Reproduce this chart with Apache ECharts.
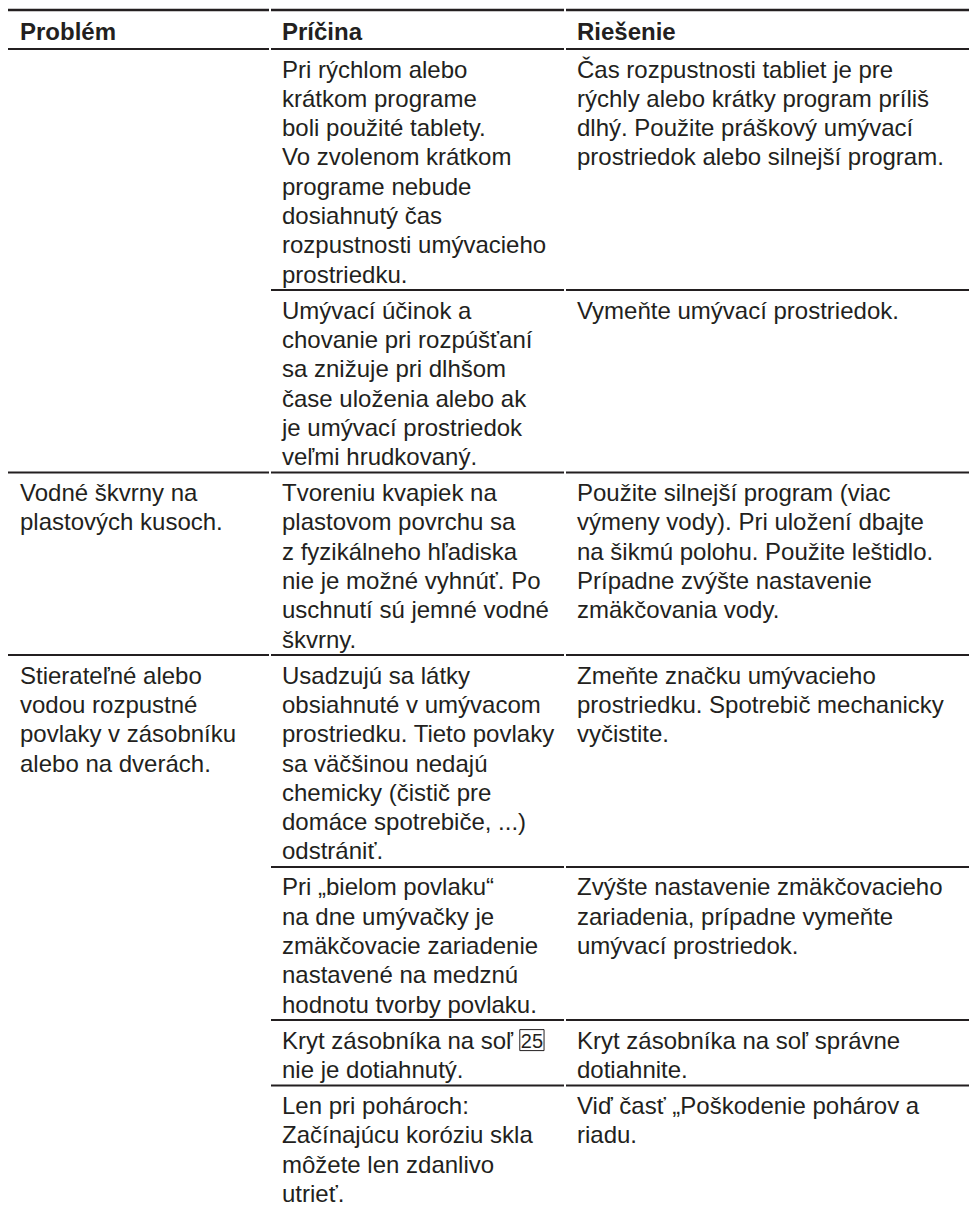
<!DOCTYPE html>
<html><head><meta charset="utf-8">
<script src="https://cdn.jsdelivr.net/npm/echarts@6/dist/echarts.min.js"></script>
<style>html,body{margin:0;padding:0;background:#fff}#c{width:969px;height:1214px}</style>
</head><body><div id="c"></div>
<script>
// ---- table content ----
const headers = ['Problém', 'Príčina', 'Riešenie'];

// column 1 text per row (null = merged with the row above)
const problemLines = [
  [],
  null,
  ['Vodné škvrny na', 'plastových kusoch.'],
  ['Stierateľné alebo', 'vodou rozpustné', 'povlaky v zásobníku', 'alebo na dverách.'],
  null,
  null,
  null
];

const causeLines = [
  ['Pri rýchlom alebo', 'krátkom programe', 'boli použité tablety.', 'Vo zvolenom krátkom', 'programe nebude', 'dosiahnutý čas', 'rozpustnosti umývacieho', 'prostriedku.'],
  ['Umývací účinok a', 'chovanie pri rozpúšťaní', 'sa znižuje pri dlhšom', 'čase uloženia alebo ak', 'je umývací prostriedok', 'veľmi hrudkovaný.'],
  ['Tvoreniu kvapiek na', 'plastovom povrchu sa', 'z fyzikálneho hľadiska', 'nie je možné vyhnúť. Po', 'uschnutí sú jemné vodné', 'škvrny.'],
  ['Usadzujú sa látky', 'obsiahnuté v umývacom', 'prostriedku. Tieto povlaky', 'sa väčšinou nedajú', 'chemicky (čistič pre', 'domáce spotrebiče, ...)', 'odstrániť.'],
  ['Pri „bielom povlaku“', 'na dne umývačky je', 'zmäkčovacie zariadenie', 'nastavené na medznú', 'hodnotu tvorby povlaku.'],
  ['Kryt zásobníka na soľ {box|25}', 'nie je dotiahnutý.'],
  ['Len pri pohároch:', 'Začínajúcu koróziu skla', 'môžete len zdanlivo', 'utrieť.']
];

const solutionLines = [
  ['Čas rozpustnosti tabliet je pre', 'rýchly alebo krátky program príliš', 'dlhý. Použite práškový umývací', 'prostriedok alebo silnejší program.'],
  ['Vymeňte umývací prostriedok.'],
  ['Použite silnejší program (viac', 'výmeny vody). Pri uložení dbajte', 'na šikmú polohu. Použite leštidlo.', 'Prípadne zvýšte nastavenie', 'zmäkčovania vody.'],
  ['Zmeňte značku umývacieho', 'prostriedku. Spotrebič mechanicky', 'vyčistite.'],
  ['Zvýšte nastavenie zmäkčovacieho', 'zariadenia, prípadne vymeňte', 'umývací prostriedok.'],
  ['Kryt zásobníka na soľ správne', 'dotiahnite.'],
  ['Viď časť „Poškodenie pohárov a', 'riadu.']
];

// ---- layout ----
const colX = [8, 270, 565, 969];
const padX = 12;
const topLineY = 10;
const headerLineY = 49;
const headerTextY = 31.5;
const lineH = 29.3;
const padTop = 20;
const padBottom = 16;
const textColor = '#231f20';
const fontFamily = 'Liberation Sans, Arial, Helvetica, sans-serif';
const fontSize = 24;

const graphics = [];

function hline(y, x1, x2, w) {
  graphics.push({
    type: 'line', silent: true,
    shape: { x1: x1, y1: y, x2: x2, y2: y },
    style: { stroke: textColor, lineWidth: w }
  });
}
function segLine(y, fromCol, w) {
  for (let c = fromCol; c < 3; c++) {
    hline(y, colX[c] + (c > 0 ? 1 : 0), colX[c + 1] - (c < 2 ? 1 : 0), w);
  }
}
function text(str, x, y, bold) {
  graphics.push({
    type: 'text', silent: true,
    style: {
      text: str, x: x, y: y,
      fill: textColor,
      fontSize: fontSize, fontFamily: fontFamily,
      fontWeight: bold ? 'bold' : 'normal',
      align: 'left', verticalAlign: 'middle',
      rich: {
        box: {
          fontSize: 20, fontFamily: fontFamily, fill: textColor,
          borderColor: textColor, borderWidth: 1,
          padding: [1, 1, 0, 1], lineHeight: 21
        }
      }
    }
  });
}

// header
segLine(topLineY, 0, 2.5);
headers.forEach((h, c) => text(h, colX[c] + padX, headerTextY, true));
segLine(headerLineY, 0, 2.2);

// body rows
let y = headerLineY;
for (let r = 0; r < causeLines.length; r++) {
  const p = problemLines[r];
  const n = Math.max(causeLines[r].length, solutionLines[r].length, p ? p.length : 0);
  const cols = [p, causeLines[r], solutionLines[r]];
  cols.forEach((lines, c) => {
    if (!lines) return;
    lines.forEach((s, i) => text(s, colX[c] + padX, y + padTop + i * lineH, false));
  });
  const bottom = y + padTop + (n - 1) * lineH + padBottom;
  if (r < causeLines.length - 1) {
    const nextOwnsCol1 = problemLines[r + 1] !== null;
    segLine(bottom, nextOwnsCol1 ? 0 : 1, 2);
  }
  y = bottom;
}

const chart = echarts.init(document.getElementById('c'), null, { renderer: 'svg' });
chart.setOption({ animation: false, graphic: { elements: graphics } });
</script>
</body></html>
